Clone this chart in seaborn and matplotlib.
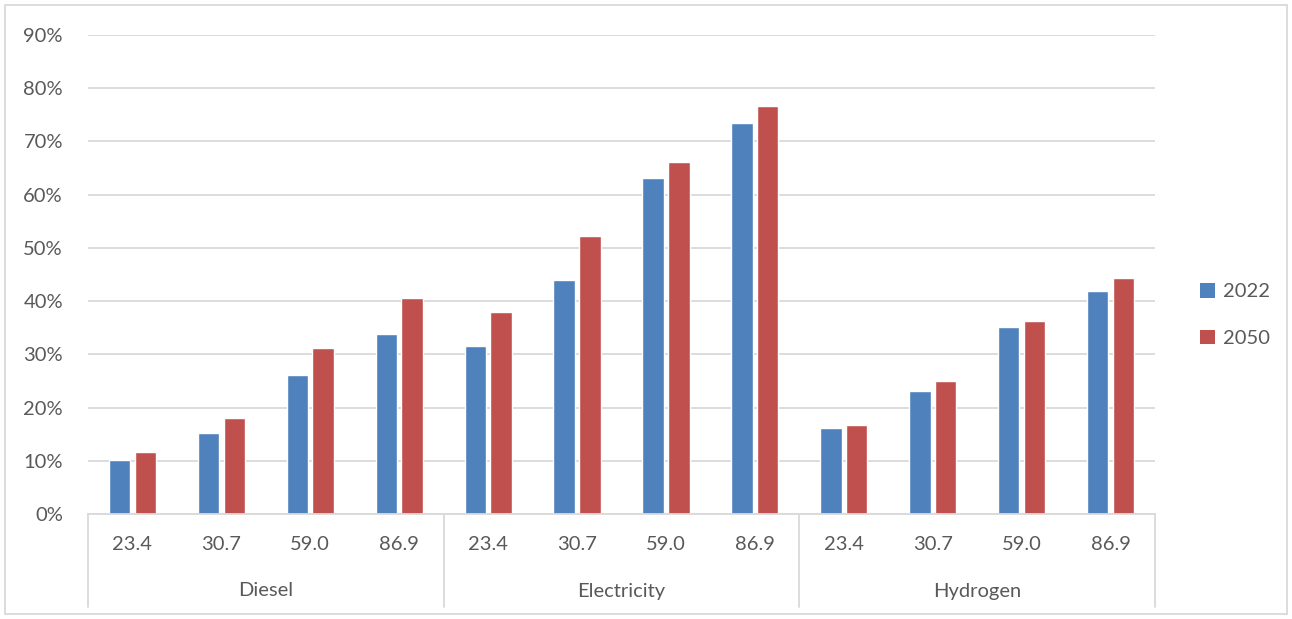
import numpy as np
import pandas as pd
import matplotlib
matplotlib.use("Agg")
import matplotlib.pyplot as plt
import matplotlib.transforms as mtransforms
from matplotlib.patches import Rectangle, Patch
import seaborn as sns

fuels = ["Diesel", "Electricity", "Hydrogen"]
loads = ["23.4", "30.7", "59.0", "86.9"]
years = ["2022", "2050"]
share_2022 = [0.102, 0.153, 0.262, 0.338,
              0.315, 0.439, 0.631, 0.734,
              0.161, 0.232, 0.351, 0.419]
share_2050 = [0.117, 0.181, 0.311, 0.406,
              0.380, 0.522, 0.661, 0.766,
              0.168, 0.249, 0.362, 0.443]
colors = ["#4F81BD", "#C0504D"]

n = len(fuels) * len(loads)
df = pd.DataFrame({
    "pos": list(range(n)) * 2,
    "year": [years[0]] * n + [years[1]] * n,
    "share": share_2022 + share_2050,
})

sns.set_theme(style="white")
plt.rcParams["font.family"] = ["Lato", "DejaVu Sans"]
txt = "#595959"
grid_c = "#D9D9D9"
fs = 14.5

fig = plt.figure(figsize=(12.92, 6.19), dpi=100)
ax = fig.add_axes([88 / 1292, 1 - 514 / 619, (1155 - 88) / 1292, (514 - 35) / 619])

sns.barplot(data=df, x="pos", y="share", hue="year", palette=colors,
            width=0.58, gap=0.17, ax=ax, legend=False, saturation=1)

ax.set_xlim(-0.5, n - 0.5)
ax.set_ylim(0, 0.9)
ax.set_yticks(np.arange(0, 0.91, 0.1))
ax.set_yticklabels([f"{int(round(v * 100))}%" for v in np.arange(0, 0.91, 0.1)],
                   fontsize=fs, color=txt)
ax.yaxis.grid(True, color=grid_c, linewidth=1.3)
ax.set_axisbelow(True)
ax.tick_params(axis="y", length=0, pad=18)
ax.set_xticks(range(n))
ax.set_xticklabels([])
ax.tick_params(axis="x", length=0)
ax.set_xlabel("")
ax.set_ylabel("")
for s in ["left", "right", "top"]:
    ax.spines[s].set_visible(False)
ax.spines["bottom"].set_color(grid_c)
ax.spines["bottom"].set_linewidth(1.3)

trans = mtransforms.blended_transform_factory(ax.transData, ax.transAxes)
ax_h = 514 - 35
for i in range(n):
    ax.text(i, -31 / ax_h, loads[i % len(loads)], transform=trans,
            ha="center", va="center", fontsize=fs, color=txt)
for g, fuel in enumerate(fuels):
    ax.text(g * len(loads) + (len(loads) - 1) / 2, -77 / ax_h, fuel, transform=trans,
            ha="center", va="center", fontsize=fs, color=txt)
for g in range(len(fuels) + 1):
    x = g * len(loads) - 0.5
    ax.plot([x, x], [0, -93 / ax_h], transform=trans, color=grid_c,
            linewidth=1.3, clip_on=False)

handles = [Patch(facecolor=c, edgecolor="none") for c in colors]
fig.legend(handles, years, loc="center left", bbox_to_anchor=(1182 / 1292, 1 - 315 / 619),
           frameon=False, fontsize=fs, labelcolor=txt, handlelength=0.75,
           handleheight=0.75, handletextpad=0.4, labelspacing=1.45)

fig.patches.append(Rectangle((5 / 1292, 5 / 619), 1282 / 1292, 609 / 619,
                             transform=fig.transFigure, fill=False,
                             edgecolor=grid_c, linewidth=1.3))

fig.savefig("out.png", dpi=100)
